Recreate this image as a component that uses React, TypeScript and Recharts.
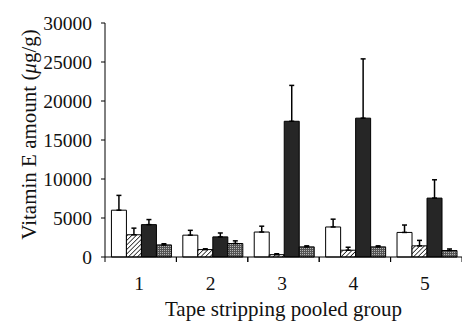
import React from 'react';
import { BarChart, Bar, XAxis, YAxis, ErrorBar } from 'recharts';

const groups = ['1', '2', '3', '4', '5'];
const whiteVals = [6000, 2800, 3200, 3850, 3150];
const whiteErr = [1900, 620, 750, 1000, 950];
const hatchVals = [2850, 950, 300, 870, 1430];
const hatchErr = [850, 100, 120, 380, 700];
const blackVals = [4150, 2580, 17400, 17800, 7550];
const blackErr = [650, 500, 4600, 7600, 2350];
const grayVals = [1550, 1730, 1300, 1300, 830];
const grayErr = [150, 340, 130, 130, 200];
const yTicks = [0, 5000, 10000, 15000, 20000, 25000, 30000];

const data = groups.map((g, i) => ({
  group: g,
  white: whiteVals[i],
  whiteE: [0, whiteErr[i]],
  hatch: hatchVals[i],
  hatchE: [0, hatchErr[i]],
  black: blackVals[i],
  blackE: [0, blackErr[i]],
  gray: grayVals[i],
  grayE: [0, grayErr[i]],
}));

const W = 462;
const H = 321;
const Y_AXIS_W = 105;
const X_AXIS_H = 64;
const MARGIN = { top: 23, right: 0, bottom: 0, left: 0 };
const PLOT_W = W - Y_AXIS_W - MARGIN.left - MARGIN.right;
const X_TICK_SIZE = 5;
const X_TICK_MARGIN = 14;
const FONT = '"Liberation Serif", "Times New Roman", serif';
const TICK_FS = 19.5;
const TITLE_FS = 21;

const XTick = (props: any) => {
  const { x, y, payload } = props;
  const bw = PLOT_W / groups.length;
  const axisY = y - X_TICK_SIZE - X_TICK_MARGIN;
  return (
    <g>
      <line x1={x - bw / 2} x2={x - bw / 2} y1={axisY} y2={axisY + X_TICK_SIZE} stroke="#000" strokeWidth={1} />
      <line x1={x + bw / 2} x2={x + bw / 2} y1={axisY} y2={axisY + X_TICK_SIZE} stroke="#000" strokeWidth={1} />
      <text x={x - 1.5} y={y} dy="0.71em" textAnchor="middle" fontFamily={FONT} fontSize={TICK_FS} fill="#111">
        {payload.value}
      </text>
    </g>
  );
};

const YLabel = (props: any) => {
  const { viewBox } = props;
  const cx = 28.5;
  const cy = viewBox.y + viewBox.height / 2 - 5.5;
  return (
    <text
      x={cx}
      y={cy}
      transform={`rotate(-90, ${cx}, ${cy})`}
      textAnchor="middle"
      dominantBaseline="central"
      fontFamily={FONT}
      fontSize={TITLE_FS}
      fill="#111"
    >
      Vitamin E amount (<tspan fontStyle="italic">μ</tspan>g/g)
    </text>
  );
};

export default function App() {
  return (
    <div style={{ position: 'absolute', left: 0, top: 0, width: W, height: H, background: '#fff' }}>
      <BarChart width={W} height={H} data={data} margin={MARGIN} barGap={0} barCategoryGap="9%">
        <defs>
          <pattern id="hatch" width="3.2" height="3.2" patternUnits="userSpaceOnUse" patternTransform="rotate(45)">
            <rect width="3.2" height="3.2" fill="#fff" />
            <line x1="0" y1="0" x2="0" y2="3.2" stroke="#111" strokeWidth="1.5" />
          </pattern>
          <pattern id="dots" width="2" height="2" patternUnits="userSpaceOnUse">
            <rect width="2" height="2" fill="#555" />
            <rect x="0" y="0" width="1" height="1" fill="#b5b5b5" />
          </pattern>
        </defs>
        <XAxis
          dataKey="group"
          height={X_AXIS_H}
          axisLine={{ stroke: '#000', strokeWidth: 1 }}
          tickLine={false}
          tickSize={X_TICK_SIZE}
          tickMargin={X_TICK_MARGIN}
          tick={<XTick />}
          interval={0}
          label={{
            value: 'Tape stripping pooled group',
            position: 'insideBottom',
            offset: 5.5,
            style: { fontFamily: FONT, fontSize: TITLE_FS, fill: '#111' },
          }}
        />
        <YAxis
          width={Y_AXIS_W}
          domain={[0, 30000]}
          ticks={yTicks}
          interval={0}
          axisLine={{ stroke: '#000', strokeWidth: 1 }}
          tickLine={{ stroke: '#000', strokeWidth: 1 }}
          tickSize={4}
          tickMargin={9}
          tick={{ fontFamily: FONT, fontSize: TICK_FS, fill: '#111' }}
          label={<YLabel />}
        />
        <Bar dataKey="white" fill="#fff" stroke="#000" strokeWidth={1} isAnimationActive={false}>
          <ErrorBar dataKey="whiteE" width={2.5} stroke="#000" strokeWidth={1.5} />
        </Bar>
        <Bar dataKey="hatch" fill="url(#hatch)" stroke="#000" strokeWidth={1} isAnimationActive={false}>
          <ErrorBar dataKey="hatchE" width={2.5} stroke="#000" strokeWidth={1.5} />
        </Bar>
        <Bar dataKey="black" fill="#262626" stroke="#000" strokeWidth={1} isAnimationActive={false}>
          <ErrorBar dataKey="blackE" width={2.5} stroke="#000" strokeWidth={1.5} />
        </Bar>
        <Bar dataKey="gray" fill="url(#dots)" stroke="#000" strokeWidth={1} isAnimationActive={false}>
          <ErrorBar dataKey="grayE" width={2.5} stroke="#000" strokeWidth={1.5} />
        </Bar>
      </BarChart>
    </div>
  );
}
